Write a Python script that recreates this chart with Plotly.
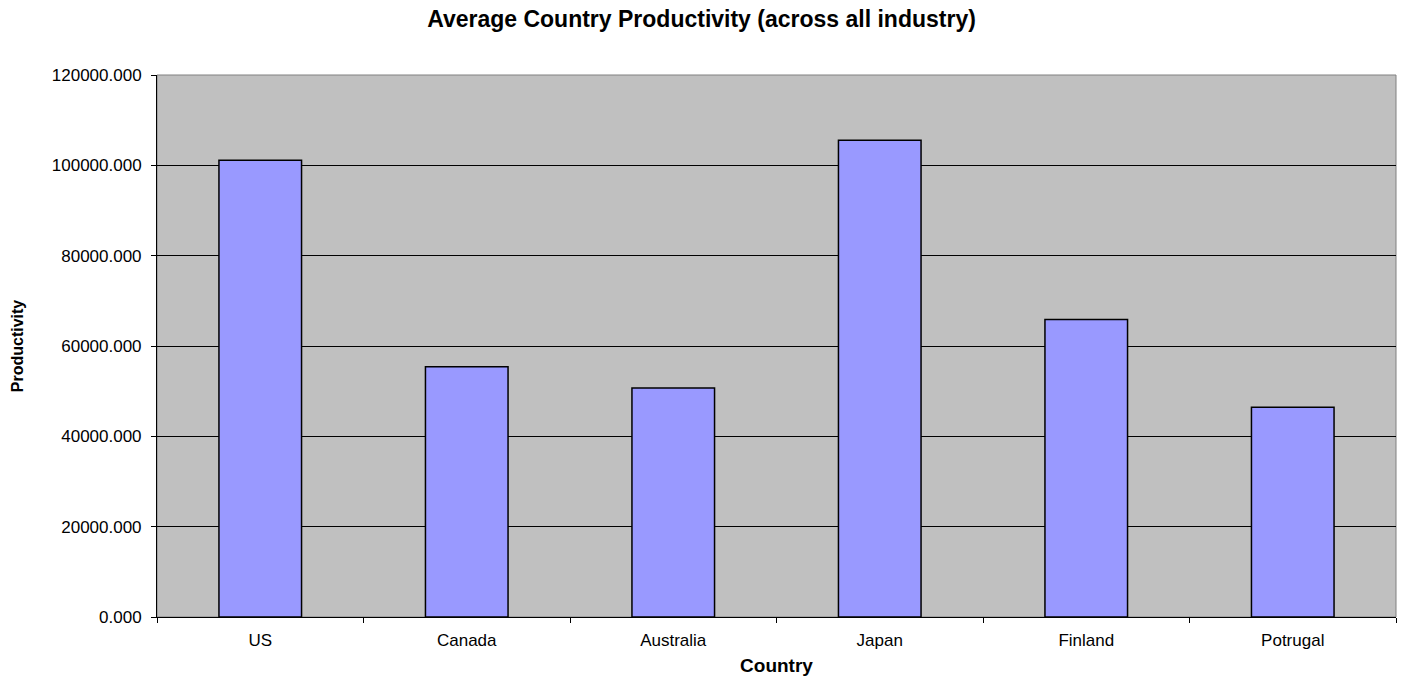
import plotly.graph_objects as go

countries = ["US", "Canada", "Australia", "Japan", "Finland", "Potrugal"]
productivity = [101120, 55410, 50700, 105540, 65890, 46435]

fig = go.Figure()
fig.add_trace(go.Bar(
    x=countries, y=productivity,
    marker=dict(color="#9999FF", line=dict(color="black", width=1.5)),
))

font_family = "Liberation Sans, Arial, sans-serif"
fig.update_layout(
    width=1403, height=679,
    margin=dict(l=157, r=7, t=75, b=62),
    paper_bgcolor="white", plot_bgcolor="#C0C0C0",
    bargap=0.6,
    showlegend=False,
    font=dict(family=font_family, size=17, color="black"),
    title=dict(text="<b>Average Country Productivity (across all industry)</b>",
               x=0.5, xanchor="center", y=0.972, yanchor="middle",
               font=dict(family=font_family, size=23, color="black")),
    xaxis=dict(
        title=dict(text="<b>Country</b>", font=dict(size=19), standoff=9),
        showline=True, linecolor="black", linewidth=1,
        ticks="outside", ticklen=5, tickcolor="black", tickson="boundaries",
        ticklabelstandoff=8,
        showgrid=False, tickfont=dict(size=17),
    ),
    yaxis=dict(
        title=dict(text="<b>Productivity</b>", font=dict(size=16), standoff=24),
        range=[0, 120000], dtick=20000, tickformat=".3f",
        showline=True, linecolor="black", linewidth=1,
        ticks="outside", ticklen=5, tickcolor="black",
        ticklabelstandoff=6,
        showgrid=True, gridcolor="black", gridwidth=1,
        zeroline=False, tickfont=dict(size=17),
    ),
    shapes=[dict(type="rect", xref="paper", yref="paper", x0=0, x1=1, y0=0, y1=1,
                 line=dict(color="#808080", width=1), layer="below")],
)

fig.write_html("out.html")
